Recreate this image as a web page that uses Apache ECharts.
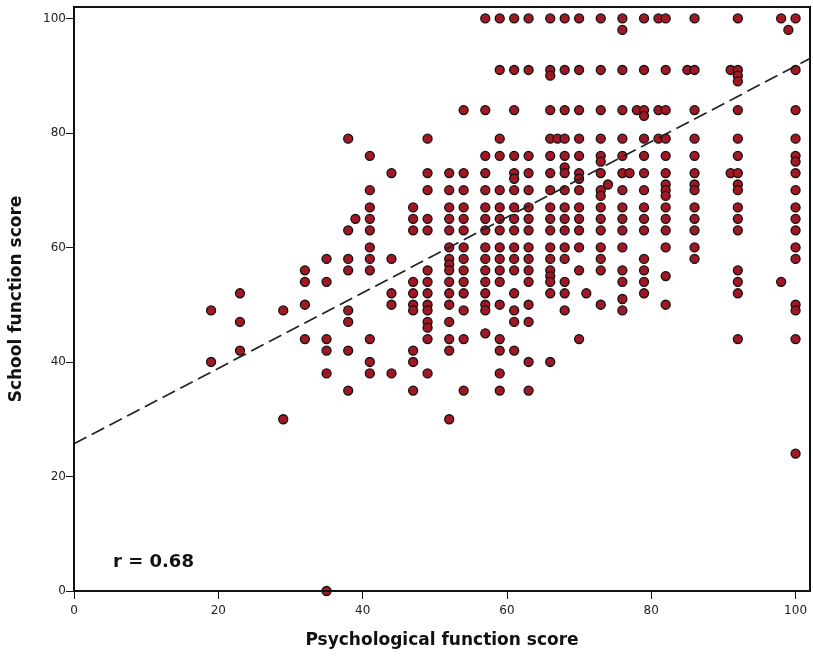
<!DOCTYPE html>
<html><head><meta charset="utf-8">
<style>html,body{margin:0;padding:0;background:#fff}#c{width:813px;height:658px}</style>
<script src="https://cdn.jsdelivr.net/npm/echarts@6/dist/echarts.min.js"></script>
</head><body><div id="c"></div>
<script>
// Psychological function scores observed at each School function score
const s100=[57,59,61,63,66,68,70,73,76,79,81,82,86,92,98,100];
const s98=[76,99];
const s91=[59,61,63,66,68,70,73,76,79,82,85,86,91,92,100];
const s90=[66,92];
const s89=[92];
const s84=[54,57,61,66,68,70,73,76,78,79,81,82,86,92,100];
const s83=[79];
const s79=[38,49,59,66,67,68,70,73,76,79,81,82,86,92,100];
const s76=[41,57,59,61,63,66,68,70,73,76,79,82,86,92,100];
const s75=[73,100];
const s74=[68];
const s73=[44,49,52,54,57,61,63,66,68,70,73,76,77,79,82,86,91,92,100];
const s72=[61,70];
const s71=[74,82,86,92];
const s70=[41,49,52,54,57,59,61,63,66,68,70,73,76,79,82,86,92,100];
const s69=[73,82];
const s67=[41,47,52,54,57,59,61,63,66,68,70,73,76,79,82,86,92,100];
const s65=[39,41,47,49,52,54,57,59,61,63,66,68,70,73,76,79,82,86,92,100];
const s63=[38,41,47,49,52,54,57,59,61,63,66,68,70,73,76,79,82,86,92,100];
const s60=[41,52,54,57,59,61,63,66,68,70,73,76,82,86,100];
const s58=[35,38,41,44,52,54,57,59,61,63,66,68,73,79,86,100];
const s57=[52];
const s56=[32,38,41,49,52,54,57,59,61,63,66,70,73,76,79,92];
const s55=[66,82];
const s54=[32,35,47,49,52,54,57,59,63,66,68,76,79,92,98];
const s52=[23,44,47,49,52,54,57,61,66,68,71,79,92];
const s51=[76];
const s50=[32,44,47,49,52,57,59,63,73,82,100];
const s49=[19,29,38,47,49,54,57,61,68,76,100];
const s47=[23,38,49,52,61,63];
const s46=[49];
const s45=[57];
const s44=[32,35,41,49,52,54,59,70,92,100];
const s42=[23,35,38,47,52,59,61];
const s40=[19,41,47,63,66];
const s38=[35,41,44,49,59];
const s35=[38,47,54,59,63];
const s30=[29,52];
const s24=[100];
const s0=[35];
const schoolRows=[[100,s100],[98,s98],[91,s91],[90,s90],[89,s89],[84,s84],[83,s83],[79,s79],[76,s76],[75,s75],[74,s74],[73,s73],[72,s72],[71,s71],[70,s70],[69,s69],[67,s67],[65,s65],[63,s63],[60,s60],[58,s58],[57,s57],[56,s56],[55,s55],[54,s54],[52,s52],[51,s51],[50,s50],[49,s49],[47,s47],[46,s46],[45,s45],[44,s44],[42,s42],[40,s40],[38,s38],[35,s35],[30,s30],[24,s24],[0,s0]];
const fitLine=[[0,25.7],[102,93]];
const tickValues=[0,20,40,60,80,100];
const xTitle='Psychological function score';
const yTitle='School function score';
const note='r = 0.68';

const points=[];
schoolRows.forEach(function(r){r[1].forEach(function(x){points.push([x,r[0]]);});});

const font='"DejaVu Sans", sans-serif';
function axis(name,gap,margin){
  return {
    type:'value',min:0,max:102,z:5,
    name:name,nameLocation:'middle',nameGap:gap,
    nameTextStyle:{color:'#111',fontFamily:font,fontWeight:'bold',fontSize:17},
    axisLine:{show:true,lineStyle:{color:'#111',width:2}},
    axisTick:{show:true,length:8,customValues:tickValues,lineStyle:{color:'#111',width:1}},
    axisLabel:{color:'#222',fontFamily:font,fontSize:12,margin:margin,customValues:tickValues},
    splitLine:{show:false}
  };
}
const xA=axis(xTitle,41,14), yA=axis(yTitle,49,8);
const chart=echarts.init(document.getElementById('c'),null,{renderer:'canvas'});
chart.setOption({
  animation:false,
  backgroundColor:'#fff',
  title:{text:note,left:108,top:548,textStyle:{fontFamily:font,fontWeight:'bold',fontSize:18,color:'#111'}},
  grid:{left:74,right:3,top:7,bottom:67,outerBoundsMode:'none',show:true,borderColor:'#111',borderWidth:2,backgroundColor:'transparent'},
  xAxis:xA,yAxis:yA,
  series:[
    {type:'scatter',data:points,symbol:'circle',symbolSize:9,clip:false,z:2,
     itemStyle:{color:'#a01823',borderColor:'#111',borderWidth:1.3,opacity:1}},
    {type:'line',data:fitLine,showSymbol:false,z:3,clip:true,silent:true,
     lineStyle:{color:'#222',width:1.7,type:[14,6]}}
  ]
});
</script></body></html>
